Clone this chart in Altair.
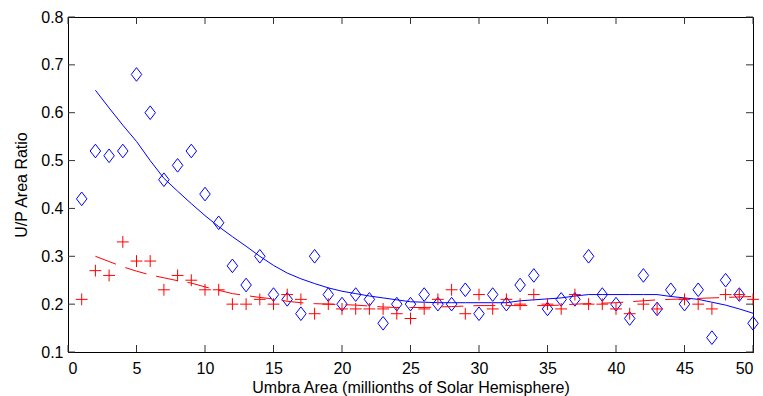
import altair as alt
import pandas as pd

# ---- data ----
x_vals = list(range(1, 51))
umbra_blue = [0.42, 0.52, 0.51, 0.52, 0.68, 0.60, 0.46, 0.49, 0.52, 0.43,
              0.37, 0.28, 0.24, 0.30, 0.22, 0.21, 0.18, 0.30, 0.22, 0.20,
              0.22, 0.21, 0.16, 0.20, 0.20, 0.22, 0.20, 0.20, 0.23, 0.18,
              0.22, 0.20, 0.24, 0.26, 0.19, 0.21, 0.21, 0.30, 0.22, 0.20,
              0.17, 0.26, 0.19, 0.23, 0.20, 0.23, 0.13, 0.25, 0.22, 0.16]
umbra_red = [0.21, 0.27, 0.26, 0.33, 0.29, 0.29, 0.23, 0.26, 0.25, 0.23,
             0.23, 0.20, 0.20, 0.21, 0.20, 0.22, 0.21, 0.18, 0.20, 0.19,
             0.19, 0.19, 0.19, 0.18, 0.17, 0.19, 0.21, 0.23, 0.18, 0.22,
             0.19, 0.21, 0.20, 0.22, 0.20, 0.19, 0.22, 0.20, 0.20, 0.19,
             0.18, 0.20, 0.19, None, 0.21, 0.20, 0.19, 0.22, 0.22, 0.21]

fit_x = list(range(2, 51))
fit_blue = [0.647, 0.610, 0.574, 0.540, 0.500, 0.463, 0.436, 0.410, 0.385,
            0.362, 0.341, 0.321, 0.300, 0.281, 0.265, 0.253, 0.243, 0.234,
            0.227, 0.222, 0.217, 0.213, 0.209, 0.205, 0.204, 0.203, 0.203,
            0.203, 0.203, 0.203, 0.203, 0.207, 0.209, 0.211, 0.213, 0.217,
            0.220, 0.220, 0.220, 0.220, 0.220, 0.220, 0.216, 0.213, 0.210,
            0.204, 0.198, 0.190, 0.181]
fit_red = [0.300, 0.289, 0.278, 0.269, 0.261, 0.255, 0.249, 0.244, 0.236,
           0.229, 0.222, 0.218, 0.214, 0.211, 0.206, 0.203, 0.201, 0.200,
           0.199, 0.198, 0.196, 0.194, 0.193, 0.193, 0.193, 0.194, 0.195,
           0.196, 0.197, 0.197, 0.197, 0.197, 0.197, 0.197, 0.198, 0.200,
           0.201, 0.202, 0.203, 0.205, 0.207, 0.209, 0.210, 0.211, 0.212,
           0.213, 0.214, 0.215, 0.216]

x_ticks = [0, 5, 10, 15, 20, 25, 30, 35, 40, 45, 50]
y_ticks = [0.1, 0.2, 0.3, 0.4, 0.5, 0.6, 0.7, 0.8]

W, H = 685, 335
FONT = "Liberation Sans"

pts = pd.DataFrame({"x": x_vals, "blue": umbra_blue, "red": umbra_red})
fits = pd.DataFrame({"x": fit_x, "blue": fit_blue, "red": fit_red})
xt = pd.DataFrame({"t": x_ticks})
yt = pd.DataFrame({"t": y_ticks})

xscale = alt.Scale(domain=[0, 50], nice=False, zero=False)
yscale = alt.Scale(domain=[0.1, 0.8], nice=False, zero=False)

common = dict(tickSize=0, grid=False, domainColor="black", domainWidth=1,
              labelFont=FONT, titleFont=FONT, labelFontSize=16, titleFontSize=16,
              labelColor="black", titleColor="black", titleFontWeight="normal")
xaxis = alt.Axis(values=x_ticks, format="d", labelPadding=8,
                 title="Umbra Area (millionths of Solar Hemisphere)",
                 titlePadding=3, **common)
yaxis = alt.Axis(values=y_ticks, format=".1f", labelPadding=5,
                 title="U/P Area Ratio", titlePadding=11, **common)

X = alt.X("x:Q", scale=xscale, axis=xaxis)
DIAMOND = "M0,-1.3L1,0L0,1.3L-1,0Z"
PLUS = "M-1,0L1,0M0,-1L0,1"

blue_pts = alt.Chart(pts).mark_point(shape=DIAMOND, size=110, filled=False,
                                     color="#0000ff", strokeWidth=1, opacity=1).encode(
    x=X, y=alt.Y("blue:Q", scale=yscale, axis=yaxis))
red_pts = alt.Chart(pts).transform_filter("datum.red != null").mark_point(
    shape=PLUS, size=140, filled=False, color="#ff0000", strokeWidth=1, opacity=1).encode(
    x=alt.X("x:Q", scale=xscale), y=alt.Y("red:Q", scale=yscale))
blue_fit = alt.Chart(fits).mark_line(color="#0000ff", strokeWidth=1).encode(
    x=alt.X("x:Q", scale=xscale), y=alt.Y("blue:Q", scale=yscale))
red_fit = alt.Chart(fits).mark_line(color="#ff0000", strokeWidth=1,
                                    strokeDash=[22, 10]).encode(
    x=alt.X("x:Q", scale=xscale), y=alt.Y("red:Q", scale=yscale))

tick_col = "#333333"
bot = alt.Chart(xt).mark_rule(color=tick_col, strokeWidth=1).encode(
    x=alt.X("t:Q", scale=xscale), y=alt.value(H), y2=alt.value(H - 7))
top = alt.Chart(xt).mark_rule(color=tick_col, strokeWidth=1).encode(
    x=alt.X("t:Q", scale=xscale), y=alt.value(0), y2=alt.value(7))
left = alt.Chart(yt).mark_rule(color=tick_col, strokeWidth=1).encode(
    y=alt.Y("t:Q", scale=yscale), x=alt.value(0), x2=alt.value(7))
right = alt.Chart(yt).mark_rule(color=tick_col, strokeWidth=1).encode(
    y=alt.Y("t:Q", scale=yscale), x=alt.value(W - 7), x2=alt.value(W))

chart = alt.layer(blue_pts, blue_fit, red_fit, red_pts, bot, top, left, right).properties(
    width=W, height=H,
    background="white",
    autosize=alt.AutoSizeParams(type="none"),
    padding={"left": 68, "top": 17, "right": 10, "bottom": 44},
).configure_view(stroke="black", strokeWidth=1)

chart.save("out.html", embed_options={"renderer": "svg", "actions": False})
